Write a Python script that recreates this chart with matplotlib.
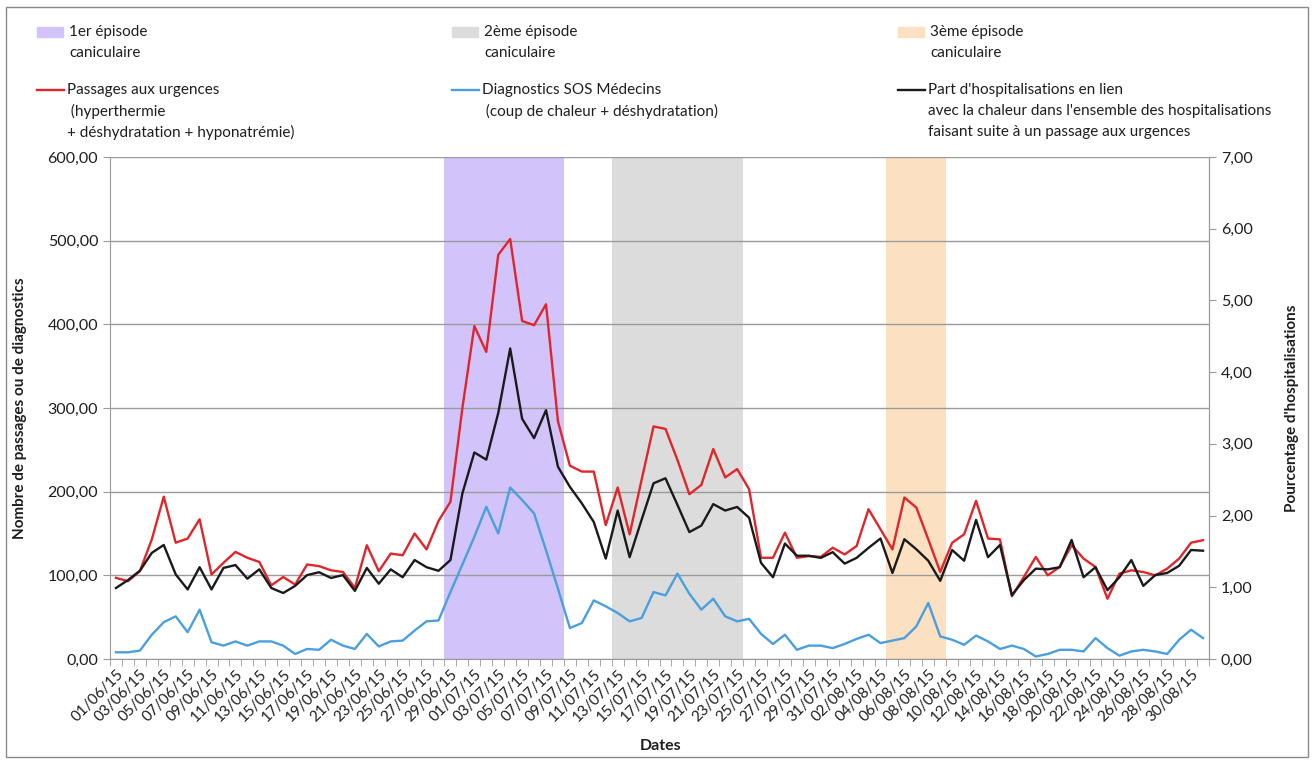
import matplotlib
matplotlib.use("Agg")
import matplotlib.pyplot as plt
import matplotlib.ticker as plticker
from matplotlib.patches import Rectangle
from matplotlib.lines import Line2D
import pandas as pd

plt.rcParams['font.family'] = ['Lato', 'DejaVu Sans']

W, H = 1315, 760

# categories: one per day, summer 2015
dates = pd.date_range("2015-06-01", "2015-08-31").strftime("%d/%m/%y").tolist()

# Passages aux urgences (hyperthermie + deshydratation + hyponatremie)
passages = [97, 93, 105, 143, 194, 139, 144, 167, 101, 115, 128, 121, 116, 88, 98, 89,
            113, 111, 106, 104, 85, 136, 105, 126, 124, 150, 131, 165, 188, 300, 398, 367,
            483, 502, 404, 399, 424, 284, 231, 224, 224, 160, 205, 149, 214, 278, 275, 238,
            197, 208, 251, 217, 227, 203, 121, 121, 151, 121, 123, 122, 133, 125, 135, 179,
            155, 131, 193, 181, 143, 104, 139, 149, 189, 144, 143, 75, 98, 122, 100, 110,
            136, 120, 110, 72, 102, 106, 104, 100, 108, 120, 139, 142]

# Diagnostics SOS Medecins (coup de chaleur + deshydratation)
sos = [8, 8, 10, 29, 44, 51, 32, 59, 20, 16, 21, 16, 21, 21, 16, 6,
       12, 11, 23, 16, 12, 30, 15, 21, 22, 34, 45, 46, 80, 113, 146, 182,
       150, 205, 190, 174, 130, 84, 37, 43, 70, 63, 55, 45, 49, 80, 76, 102,
       78, 59, 72, 51, 45, 48, 30, 18, 29, 11, 16, 16, 13, 18, 24, 29,
       19, 22, 25, 39, 67, 27, 23, 17, 28, 21, 12, 16, 12, 3, 6, 11,
       11, 9, 25, 13, 4, 9, 11, 9, 6, 23, 35, 25]

# Part d'hospitalisations en lien avec la chaleur (%)
part_hosp = [0.99, 1.10, 1.23, 1.48, 1.59, 1.18, 0.97, 1.28, 0.97, 1.27, 1.31, 1.12, 1.25, 0.99, 0.92, 1.02,
             1.17, 1.21, 1.13, 1.17, 0.95, 1.27, 1.05, 1.25, 1.14, 1.38, 1.28, 1.23, 1.38, 2.31, 2.88, 2.78,
             3.43, 4.33, 3.35, 3.08, 3.47, 2.68, 2.40, 2.17, 1.91, 1.40, 2.07, 1.42, 1.94, 2.45, 2.52, 2.15,
             1.77, 1.86, 2.16, 2.07, 2.12, 1.97, 1.34, 1.14, 1.61, 1.44, 1.44, 1.41, 1.49, 1.33, 1.41, 1.55,
             1.68, 1.20, 1.67, 1.53, 1.37, 1.09, 1.52, 1.37, 1.94, 1.42, 1.59, 0.89, 1.10, 1.26, 1.25, 1.28,
             1.66, 1.14, 1.28, 0.96, 1.14, 1.38, 1.02, 1.17, 1.20, 1.30, 1.52, 1.51]

# heatwave episodes (first and last day)
episode_start = ["29/06/15", "13/07/15", "05/08/15"]
episode_end = ["08/07/15", "23/07/15", "09/08/15"]
episode_colors = ["#D2C4FA", "#DCDCDC", "#FCE0C2"]
episode_labels = ["1er épisode\ncaniculaire", "2ème épisode\ncaniculaire", "3ème épisode\ncaniculaire"]

line_labels = ["Passages aux urgences\n (hyperthermie\n+ déshydratation + hyponatrémie)",
               "Diagnostics SOS Médecins\n (coup de chaleur + déshydratation)",
               "Part d'hospitalisations en lien\navec la chaleur dans l'ensemble des hospitalisations\n"
               "faisant suite à un passage aux urgences"]

RED, BLUE, BLACK = "#E0262B", "#4A9FDD", "#1A1A1A"
GRID = "#9A9A9A"
TXT = "#1E1E1E"


def comma(v, pos):
    return "{:.2f}".format(v).replace(".", ",")


def fx(x):
    return x / W


def fy(y):
    return 1 - y / H


def block(x0, y0, text):
    # one text per line, 21 px apart, like the Excel legend
    for k, line in enumerate(text.split("\n")):
        fig.text(fx(x0), fy(y0 + 21 * k), line, ha="left", va="center",
                 fontsize=11, color=TXT)


fig = plt.figure(figsize=(W / 100, H / 100), dpi=100)
ax = fig.add_axes([fx(110), fy(659), fx(1209) - fx(110), fy(157) - fy(659)])
ax2 = ax.twinx()

x = list(range(len(dates)))
for s, e, c in zip(episode_start, episode_end, episode_colors):
    ax.axvspan(dates.index(s) - 0.5, dates.index(e) + 0.5, color=c, lw=0, zorder=0)

ax.plot(x, passages, color=RED, lw=1.7, zorder=3)
ax.plot(x, sos, color=BLUE, lw=1.7, zorder=3)
ax2.plot(x, part_hosp, color=BLACK, lw=1.7, zorder=3)

ax.set_xlim(-0.5, len(dates) - 0.5)
ax.set_ylim(0, 600)
ax2.set_ylim(0, 7)
ax.yaxis.set_major_locator(plticker.MultipleLocator(100))
ax2.yaxis.set_major_locator(plticker.MultipleLocator(1))
ax.yaxis.set_major_formatter(plticker.FuncFormatter(comma))
ax2.yaxis.set_major_formatter(plticker.FuncFormatter(comma))
ax.grid(axis="y", color=GRID, lw=1)
ax.set_axisbelow(True)

ax.set_xticks(x[::2])
ax.set_xticklabels(dates[::2], rotation=45, ha="right", rotation_mode="anchor")
ax.set_xticks([i - 0.5 for i in range(len(dates) + 1)], minor=True)
ax.tick_params(axis="x", which="major", length=0, pad=6, labelsize=11, colors=TXT)
ax.tick_params(axis="x", which="minor", length=5, color=GRID)
ax.tick_params(axis="y", length=5, color=GRID, labelsize=11.5, colors=TXT)
ax2.tick_params(axis="y", length=5, color=GRID, labelsize=11.5, colors=TXT)
ax.tick_params(axis="x", which="both", color=GRID)

for a in (ax, ax2):
    for side in ("left", "right", "bottom"):
        a.spines[side].set_color(GRID)
    a.spines["top"].set_visible(False)
ax2.spines["left"].set_visible(False)
ax2.spines["bottom"].set_visible(False)

fig.text(fx(20), fy(408), "Nombre de passages ou de diagnostics", rotation=90,
         ha="center", va="center", fontsize=11, fontweight="bold", color=TXT)
fig.text(fx(1292), fy(408), "Pourcentage d'hospitalisations", rotation=90,
         ha="center", va="center", fontsize=11, fontweight="bold", color=TXT)
fig.text(fx(661), fy(746), "Dates", ha="center", va="center", fontsize=11.5,
         fontweight="bold", color=TXT)

# legend, laid out by hand like the original
leg_x = [37, 452, 898]
for lx, c, lab in zip(leg_x, episode_colors, episode_labels):
    fig.add_artist(Rectangle((fx(lx), fy(37)), fx(26), fy(27) - fy(37), color=c,
                             transform=fig.transFigure))
    block(lx + 32, 32, lab)

for lx, c, lab in zip(leg_x, [RED, BLUE, BLACK], line_labels):
    fig.add_artist(Line2D([fx(lx), fx(lx + 27)], [fy(90), fy(90)], color=c, lw=1.7,
                          transform=fig.transFigure))
    block(lx + 30, 90, lab)

fig.add_artist(Rectangle((fx(6), fy(757)), fx(1302), fy(7) - fy(757), fill=False,
                         edgecolor="#8A8A8A", lw=1, transform=fig.transFigure))

fig.savefig("out.png", dpi=100)
